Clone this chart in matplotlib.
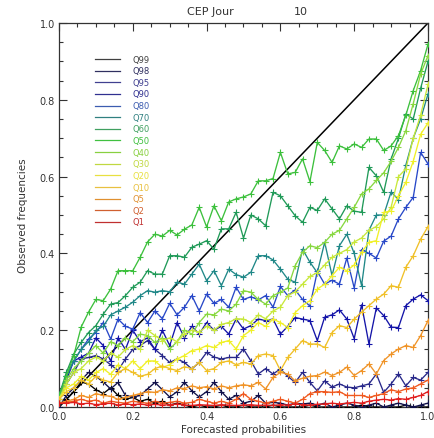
import numpy as np
import matplotlib
matplotlib.use("Agg")
import matplotlib.pyplot as plt
from matplotlib.ticker import MultipleLocator, FormatStrFormatter

x = np.linspace(0, 1, 51)

labels = ["Q99", "Q98", "Q95", "Q90", "Q80", "Q70", "Q60", "Q50",
          "Q40", "Q30", "Q20", "Q10", "Q5", "Q2", "Q1"]
colors = ["#000000", "#10104a", "#28288a", "#1414a8", "#2848c8", "#208888",
          "#209a58", "#3cc03c", "#88d840", "#c8e83c", "#f0f028", "#f0c028",
          "#f09428", "#f05a20", "#e01e1e"]
text_colors = ["#404040", "#303060", "#404090", "#303090", "#3c5cb0", "#308080",
               "#40a060", "#40c040", "#88d040", "#c0d840", "#e8e040", "#e8c040",
               "#e09030", "#d06030", "#c03030"]

Q99 = [0.0, 0.02, 0.04, 0.065, 0.06, 0.045, 0.035, 0.05, 0.03, 0.02,
       0.025, 0.015, 0.02, 0.01, 0.015, 0.005, 0.01, 0.005, 0.0, 0.005,
       0.0, 0.0, 0.005, 0.0, 0.0, 0.005, 0.0, 0.0, 0.0, 0.005,
       0.0, 0.0, 0.0, 0.0, 0.005, 0.0, 0.0, 0.0, 0.0, 0.0,
       0.0, 0.005, 0.0, 0.0, 0.0, 0.0, 0.0, 0.005, 0.0, 0.0, 0.0]
Q98 = [0.0, 0.03, 0.05, 0.07, 0.09, 0.08, 0.065, 0.047, 0.064, 0.03,
       0.026, 0.03, 0.047, 0.064, 0.045, 0.026, 0.04, 0.064, 0.042, 0.026,
       0.04, 0.064, 0.04, 0.02, 0.03, 0.01, 0.015, 0.03, 0.01, 0.012,
       0.01, 0.005, 0.01, 0.008, 0.01, 0.005, 0.01, 0.0, 0.005, 0.01,
       0.005, 0.0, 0.005, 0.01, 0.0, 0.005, 0.01, 0.005, 0.0, 0.005, 0.01]
Q95 = [0.02, 0.06, 0.09, 0.125, 0.129, 0.134, 0.125, 0.11, 0.095, 0.125,
       0.15, 0.16, 0.173, 0.15, 0.134, 0.116, 0.125, 0.116, 0.099, 0.116,
       0.142, 0.13, 0.125, 0.129, 0.129, 0.151, 0.12, 0.086, 0.1, 0.086,
       0.099, 0.08, 0.064, 0.09, 0.064, 0.042, 0.068, 0.052, 0.06, 0.052,
       0.05, 0.055, 0.06, 0.086, 0.038, 0.06, 0.086, 0.055, 0.077, 0.07, 0.09]
Q90 = [0.02, 0.07, 0.12, 0.13, 0.14, 0.18, 0.16, 0.12, 0.18, 0.15,
       0.2, 0.17, 0.18, 0.15, 0.2, 0.16, 0.22, 0.18, 0.21, 0.19,
       0.22, 0.2, 0.21, 0.19, 0.229, 0.203, 0.212, 0.229, 0.225, 0.229,
       0.19, 0.21, 0.233, 0.229, 0.225, 0.173, 0.234, 0.24, 0.253, 0.229,
       0.178, 0.266, 0.164, 0.258, 0.238, 0.208, 0.207, 0.264, 0.281, 0.292, 0.277]
Q80 = [0.03, 0.08, 0.12, 0.15, 0.177, 0.194, 0.22, 0.177, 0.229, 0.21,
       0.203, 0.246, 0.22, 0.25, 0.23, 0.27, 0.24, 0.26, 0.29, 0.25,
       0.294, 0.27, 0.28, 0.26, 0.312, 0.28, 0.287, 0.279, 0.29, 0.26,
       0.314, 0.29, 0.305, 0.28, 0.263, 0.353, 0.32, 0.33, 0.32, 0.388,
       0.31, 0.41, 0.40, 0.388, 0.432, 0.445, 0.49, 0.52, 0.546, 0.663, 0.633]
Q70 = [0.03, 0.08, 0.12, 0.15, 0.17, 0.2, 0.21, 0.24, 0.25, 0.26,
       0.273, 0.29, 0.303, 0.299, 0.303, 0.3, 0.325, 0.32, 0.346, 0.372,
       0.329, 0.355, 0.316, 0.359, 0.345, 0.338, 0.351, 0.394, 0.394, 0.383,
       0.359, 0.333, 0.325, 0.411, 0.377, 0.35, 0.429, 0.342, 0.42, 0.45,
       0.40, 0.316, 0.46, 0.50, 0.50, 0.56, 0.54, 0.63, 0.70, 0.75, 0.815]
Q60 = [0.03, 0.09, 0.138, 0.168, 0.194, 0.212, 0.242, 0.268, 0.272, 0.29,
       0.312, 0.325, 0.355, 0.346, 0.346, 0.394, 0.394, 0.39, 0.416, 0.424,
       0.433, 0.411, 0.464, 0.464, 0.507, 0.44, 0.50, 0.49, 0.472, 0.559,
       0.55, 0.524, 0.498, 0.481, 0.52, 0.512, 0.542, 0.516, 0.49, 0.524,
       0.51, 0.507, 0.624, 0.602, 0.559, 0.646, 0.70, 0.763, 0.75, 0.83, 0.90]
Q50 = [0.03, 0.08, 0.134, 0.208, 0.247, 0.28, 0.277, 0.307, 0.355, 0.355,
       0.355, 0.39, 0.43, 0.45, 0.445, 0.46, 0.448, 0.463, 0.474, 0.52,
       0.469, 0.524, 0.485, 0.534, 0.542, 0.547, 0.555, 0.589, 0.589, 0.595,
       0.663, 0.607, 0.611, 0.646, 0.587, 0.689, 0.668, 0.637, 0.68, 0.672,
       0.685, 0.676, 0.698, 0.698, 0.668, 0.68, 0.707, 0.76, 0.824, 0.876, 0.945]
Q40 = [0.02, 0.07, 0.1, 0.12, 0.14, 0.16, 0.14, 0.17, 0.16, 0.18,
       0.17, 0.19, 0.186, 0.168, 0.18, 0.151, 0.17, 0.2, 0.19, 0.22,
       0.242, 0.24, 0.255, 0.25, 0.268, 0.303, 0.299, 0.28, 0.268, 0.29,
       0.299, 0.31, 0.368, 0.403, 0.42, 0.415, 0.429, 0.45, 0.46, 0.49,
       0.52, 0.555, 0.568, 0.59, 0.61, 0.64, 0.676, 0.72, 0.79, 0.867, 0.915]
Q30 = [0.02, 0.06, 0.09, 0.1, 0.12, 0.13, 0.12, 0.14, 0.13, 0.15,
       0.16, 0.15, 0.2, 0.186, 0.173, 0.18, 0.17, 0.19, 0.2, 0.195,
       0.21, 0.2, 0.215, 0.22, 0.23, 0.229, 0.22, 0.24, 0.23, 0.25,
       0.26, 0.29, 0.3, 0.32, 0.34, 0.35, 0.37, 0.39, 0.4, 0.41,
       0.43, 0.44, 0.46, 0.47, 0.49, 0.52, 0.6, 0.62, 0.7, 0.76, 0.84]
Q20 = [0.02, 0.05, 0.06, 0.08, 0.07, 0.09, 0.1, 0.085, 0.11, 0.1,
       0.12, 0.1, 0.12, 0.12, 0.103, 0.11, 0.125, 0.134, 0.147, 0.151,
       0.16, 0.155, 0.168, 0.173, 0.151, 0.186, 0.2, 0.22, 0.21, 0.229,
       0.22, 0.207, 0.246, 0.264, 0.277, 0.307, 0.32, 0.342, 0.364, 0.355,
       0.37, 0.403, 0.429, 0.433, 0.507, 0.51, 0.55, 0.585, 0.64, 0.71, 0.74]
Q10 = [0.02, 0.04, 0.05, 0.07, 0.06, 0.08, 0.07, 0.065, 0.09, 0.1,
       0.09, 0.08, 0.085, 0.1, 0.107, 0.1, 0.095, 0.105, 0.1, 0.116,
       0.095, 0.1, 0.116, 0.12, 0.11, 0.116, 0.112, 0.134, 0.138, 0.134,
       0.095, 0.129, 0.151, 0.173, 0.164, 0.164, 0.155, 0.194, 0.212, 0.207,
       0.229, 0.247, 0.264, 0.281, 0.294, 0.316, 0.312, 0.364, 0.394, 0.437, 0.47]
Q5 = [0.01, 0.015, 0.02, 0.03, 0.025, 0.035, 0.03, 0.028, 0.02, 0.025,
      0.03, 0.035, 0.04, 0.038, 0.045, 0.042, 0.05, 0.048, 0.055, 0.05,
      0.053, 0.047, 0.055, 0.05, 0.055, 0.058, 0.055, 0.064, 0.047, 0.077,
      0.09, 0.086, 0.068, 0.075, 0.08, 0.082, 0.091, 0.082, 0.09, 0.104,
      0.082, 0.095, 0.112, 0.086, 0.121, 0.138, 0.151, 0.16, 0.155, 0.186, 0.225]
Q2 = [0.01, 0.012, 0.015, 0.02, 0.015, 0.018, 0.01, 0.015, 0.012, 0.01,
      0.015, 0.012, 0.01, 0.015, 0.01, 0.012, 0.015, 0.01, 0.012, 0.02,
      0.015, 0.01, 0.015, 0.01, 0.02, 0.035, 0.02, 0.015, 0.01, 0.015,
      0.02, 0.015, 0.01, 0.02, 0.035, 0.04, 0.04, 0.038, 0.04, 0.03,
      0.03, 0.03, 0.025, 0.03, 0.035, 0.045, 0.04, 0.047, 0.05, 0.06, 0.07]
Q1 = [0.01, 0.01, 0.012, 0.008, 0.01, 0.006, 0.008, 0.01, 0.005, 0.008,
      0.006, 0.008, 0.005, 0.007, 0.005, 0.006, 0.008, 0.005, 0.004, 0.006,
      0.005, 0.004, 0.006, 0.005, 0.004, 0.005, 0.006, 0.004, 0.005, 0.004,
      0.006, 0.005, 0.008, 0.006, 0.005, 0.007, 0.008, 0.01, 0.008, 0.01,
      0.012, 0.01, 0.015, 0.018, 0.02, 0.018, 0.022, 0.02, 0.025, 0.03, 0.04]

series = [Q99, Q98, Q95, Q90, Q80, Q70, Q60, Q50, Q40, Q30, Q20, Q10, Q5, Q2, Q1]

W, H = 435, 439
fig = plt.figure(figsize=(W / 100, H / 100), dpi=100)
ax = fig.add_axes([59 / W, 1 - 408 / H, 369 / W, 384 / H])

ax.plot([0, 1], [0, 1], color="black", lw=1.1, zorder=2)
for vals, c in zip(series, colors):
    ax.plot(x, vals, color=c, lw=0.95, marker="+", ms=5, mew=0.8, zorder=3)

ax.set_xlim(0, 1)
ax.set_ylim(0, 1)
ax.xaxis.set_major_locator(MultipleLocator(0.2))
ax.xaxis.set_minor_locator(MultipleLocator(0.05))
ax.yaxis.set_major_locator(MultipleLocator(0.2))
ax.yaxis.set_minor_locator(MultipleLocator(0.05))
ax.tick_params(which="both", direction="in", top=True, right=True,
               labelsize=7, width=0.8, color="#333333", labelcolor="#333333")
ax.tick_params(which="major", length=6, pad=3)
ax.tick_params(which="minor", length=3)
ax.xaxis.set_major_formatter(FormatStrFormatter("%.1f"))
ax.yaxis.set_major_formatter(FormatStrFormatter("%.1f"))
for s in ax.spines.values():
    s.set_linewidth(0.9)
    s.set_color("#333333")

ax.set_xlabel("Forecasted probabilities", fontsize=7.5, color="#333333", labelpad=2)
ax.set_ylabel("Observed frequencies", fontsize=7.5, color="#333333", labelpad=8)

fig.text(210 / W, 1 - 12 / H, "CEP Jour", fontsize=8, color="#333333",
         ha="center", va="center")
fig.text(301 / W, 1 - 12 / H, "10", fontsize=8, color="#333333",
         ha="center", va="center")

# legend, drawn in figure pixel positions
for i, (lab, tc) in enumerate(zip(labels, text_colors)):
    yy = 1 - (60 + i * 11.64) / H
    fig.add_artist(plt.Line2D([95 / W, 120 / W], [yy, yy], color=tc, lw=0.9))
    fig.text(133 / W, yy, lab, fontsize=6, color=tc, ha="left", va="center")

fig.savefig("out.png", dpi=100)
